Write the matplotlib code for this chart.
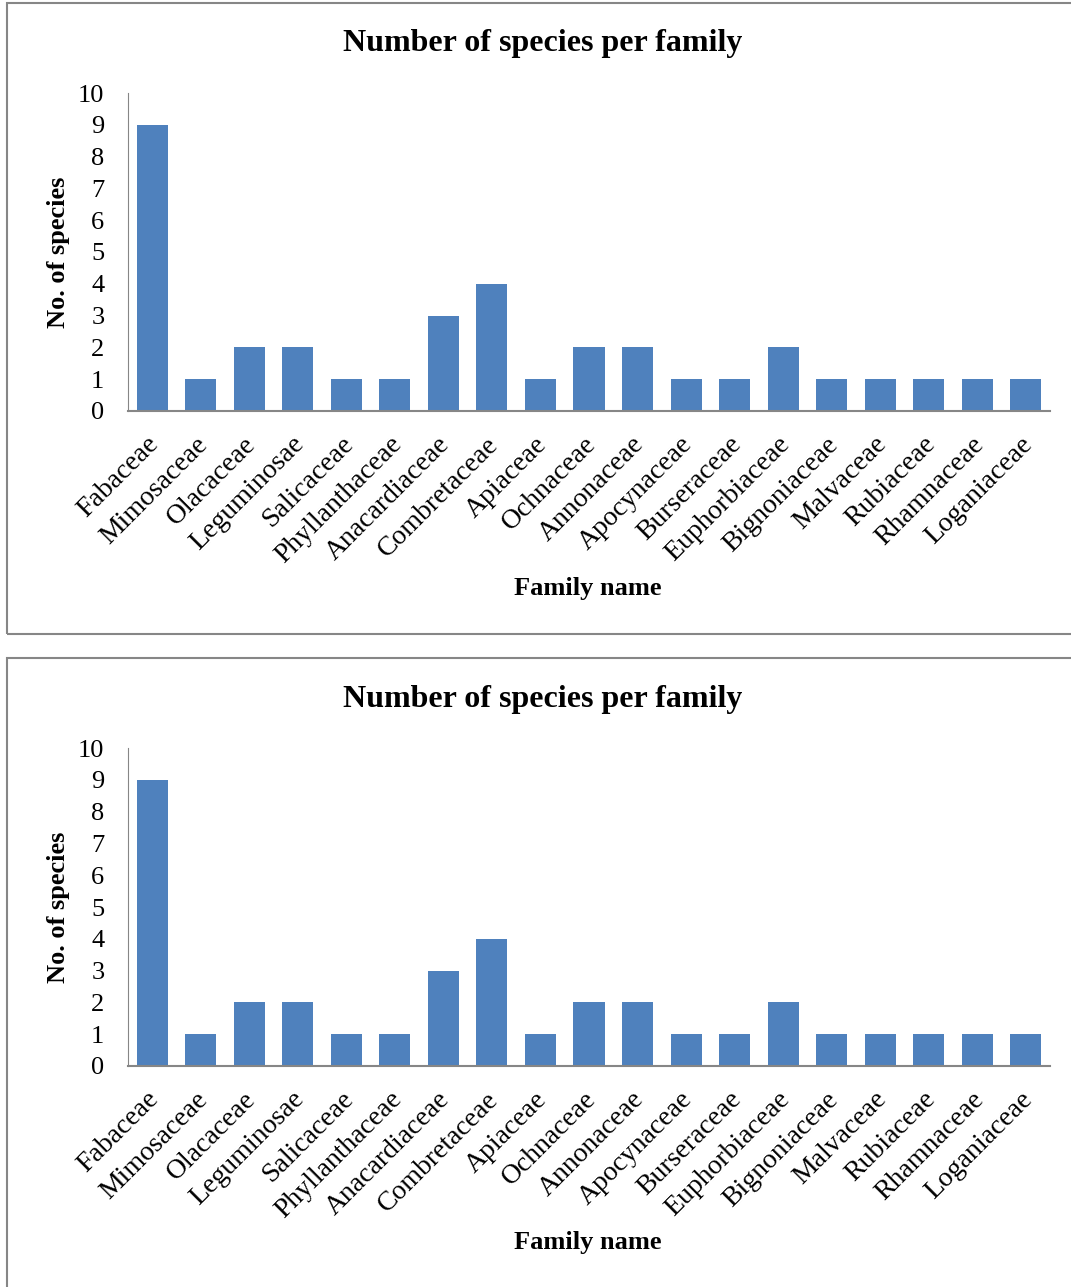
import matplotlib.pyplot as plt
import matplotlib.transforms as mtransforms
from matplotlib.patches import Rectangle

plt.rcParams['font.family'] = ['Liberation Serif', 'DejaVu Serif']

families = ['Fabaceae', 'Mimosaceae', 'Olacaceae', 'Leguminosae', 'Salicaceae',
            'Phyllanthaceae', 'Anacardiaceae', 'Combretaceae', 'Apiaceae', 'Ochnaceae',
            'Annonaceae', 'Apocynaceae', 'Burseraceae', 'Euphorbiaceae', 'Bignoniaceae',
            'Malvaceae', 'Rubiaceae', 'Rhamnaceae', 'Loganiaceae']
species = [9, 1, 2, 2, 1, 1, 3, 4, 1, 2, 2, 1, 1, 2, 1, 1, 1, 1, 1]
yticks = list(range(0, 11))

W, H = 1071, 1287
fig = plt.figure(figsize=(W / 100, H / 100), dpi=100)

bar_color = '#4f81bd'
grey = '#868686'


def draw_chart(offset):
    # frame around the chart (pixel coords -> figure fractions)
    top_px = 3 + offset
    bottom_px = 634 + offset
    fig.patches.append(Rectangle((7 / W, 1 - bottom_px / H), (W + 10) / W, (bottom_px - top_px) / H,
                                 transform=fig.transFigure, fill=False,
                                 edgecolor=grey, linewidth=1.5))
    ax = fig.add_axes([128 / W, 1 - (411 + offset) / H, (1050 - 128) / W, (411 - 93) / H])
    x = range(len(families))
    ax.bar(x, species, width=0.64, color=bar_color)
    ax.set_xlim(-0.5, len(families) - 0.5)
    ax.set_ylim(0, 10)
    ax.set_yticks(yticks)
    ax.set_yticklabels([str(v) for v in yticks], fontsize=19)
    ax.set_xticks(list(x))
    ax.set_xticklabels(families, rotation=45, ha='right', rotation_mode='anchor', fontsize=20)
    ax.tick_params(axis='x', length=0, pad=15)
    ax.tick_params(axis='y', length=0, pad=17)
    shift = mtransforms.ScaledTranslation(-6 / 100, 0, fig.dpi_scale_trans)
    for lab in ax.get_xticklabels():
        lab.set_transform(lab.get_transform() + shift)
    for s in ['top', 'right']:
        ax.spines[s].set_visible(False)
    ax.spines['left'].set_color(grey)
    ax.spines['bottom'].set_color(grey)
    ax.spines['bottom'].set_linewidth(1.5)
    fig.text(543 / W, 1 - (44 + offset) / H, 'Number of species per family',
             ha='center', va='center', fontsize=23, fontweight='bold')
    fig.text(58 / W, 1 - (252 + offset) / H, 'No. of species', rotation=90,
             ha='center', va='center', fontsize=19, fontweight='bold')
    fig.text(588 / W, 1 - (588 + offset) / H, 'Family name',
             ha='center', va='center', fontsize=19, fontweight='bold')


draw_chart(0)
draw_chart(655)

fig.savefig('out.png', dpi=100)
